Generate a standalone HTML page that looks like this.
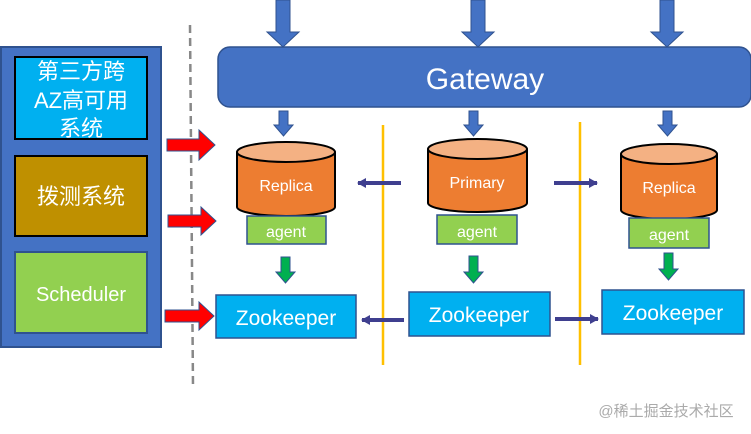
<!DOCTYPE html>
<html><head><meta charset="utf-8"><style>
html,body{margin:0;padding:0;background:#fff;width:751px;height:434px;overflow:hidden}
svg{display:block}
text{font-family:"Liberation Sans","Noto Sans CJK SC",sans-serif;fill:#fff}
</style></head><body>
<svg width="751" height="434" viewBox="0 0 751 434" xmlns="http://www.w3.org/2000/svg">
<defs>
<marker id="nb" markerWidth="9" markerHeight="10" refX="8" refY="5" orient="auto" markerUnits="userSpaceOnUse"><path d="M0,0 L9,5 L0,10 z" fill="#3F3F8F"/></marker>
</defs>
<rect x="1" y="47" width="160" height="300" fill="#4472C4" stroke="#2F528F" stroke-width="2"/>
<rect x="15" y="57" width="132" height="82" fill="#00B0F0" stroke="#000" stroke-width="2"/>
<text x="81" y="79" font-size="22" text-anchor="middle">第三方跨</text>
<text x="81" y="108" font-size="22" text-anchor="middle">AZ高可用</text>
<text x="81" y="136" font-size="22" text-anchor="middle">系统</text>
<rect x="15" y="156" width="132" height="80" fill="#BF9000" stroke="#000" stroke-width="2"/>
<text x="81" y="204" font-size="22" text-anchor="middle">拨测系统</text>
<rect x="15" y="252" width="132" height="81" fill="#92D050" stroke="#2F528F" stroke-width="2"/>
<text x="81" y="301" font-size="20" text-anchor="middle">Scheduler</text>
<line x1="190" y1="25" x2="193" y2="387" stroke="#888" stroke-width="2.5" stroke-dasharray="8,5"/>
<g fill="#FF0000" stroke="#2F528F" stroke-width="1">
<path d="M167,139 L199,139 L199,130 L215,145 L199,160 L199,151 L167,151 z"/>
<path d="M168,215 L201,215 L201,207 L216,221 L201,235 L201,227 L168,227 z"/>
<path d="M165,310 L199,310 L199,302 L214,316 L199,330 L199,322 L165,322 z"/>
</g>
<rect x="218" y="47" width="533" height="60" rx="12" fill="#4472C4" stroke="#2F528F" stroke-width="1.5"/>
<text x="485" y="89" font-size="30" text-anchor="middle">Gateway</text>
<g fill="#4472C4" stroke="#2F528F" stroke-width="1">
<path d="M276,0 L290,0 L290,32 L299,32 L283,47 L267,32 L276,32 z"/>
<path d="M471,0 L485,0 L485,32 L494,32 L478,47 L462,32 L471,32 z"/>
<path d="M660,0 L674,0 L674,32 L683,32 L667,47 L651,32 L660,32 z"/>
<path d="M279,111 L288,111 L288,125 L293,125 L283.5,136 L274,125 L279,125 z"/>
<path d="M469,111 L478,111 L478,125 L483,125 L473.5,136 L464,125 L469,125 z"/>
<path d="M663,111 L672,111 L672,125 L677,125 L667.5,136 L658,125 L663,125 z"/>
</g>
<line x1="383" y1="125" x2="383" y2="365" stroke="#FFC000" stroke-width="2.5"/>
<line x1="580" y1="122" x2="580" y2="365" stroke="#FFC000" stroke-width="2.5"/>
<g stroke="#000" stroke-width="2">
<path d="M237,152 L237,207 A49,9 0 0 0 335,207 L335,152" fill="#ED7D31"/>
<ellipse cx="286" cy="152" rx="49" ry="10" fill="#F4B183"/>
<path d="M428,149 L428,203 A49.5,9 0 0 0 527,203 L527,149" fill="#ED7D31"/>
<ellipse cx="477.5" cy="149" rx="49.5" ry="10" fill="#F4B183"/>
<path d="M621,154 L621,210 A48,9 0 0 0 717,210 L717,154" fill="#ED7D31"/>
<ellipse cx="669" cy="154" rx="48" ry="10" fill="#F4B183"/>
</g>
<text x="286" y="191" font-size="16" text-anchor="middle">Replica</text>
<text x="477" y="188" font-size="16" text-anchor="middle">Primary</text>
<text x="669" y="193" font-size="16" text-anchor="middle">Replica</text>
<g fill="#92D050" stroke="#2F528F" stroke-width="1.5">
<rect x="247" y="216" width="79" height="28"/>
<rect x="437" y="215" width="80" height="29"/>
<rect x="629" y="218" width="80" height="30"/>
</g>
<text x="286" y="237" font-size="16" text-anchor="middle">agent</text>
<text x="477" y="237" font-size="16" text-anchor="middle">agent</text>
<text x="669" y="240" font-size="16" text-anchor="middle">agent</text>
<g fill="#00B050" stroke="#2F528F" stroke-width="1">
<path d="M281,257 L290,257 L290,272 L295,272 L285.5,283 L276,272 L281,272 z"/>
<path d="M469,256 L478,256 L478,272 L483,272 L473.5,283 L464,272 L469,272 z"/>
<path d="M664,253 L673,253 L673,269 L678,269 L668.5,280 L659,269 L664,269 z"/>
</g>
<g fill="#00B0F0" stroke="#2F528F" stroke-width="1.5">
<rect x="216" y="295" width="140" height="43"/>
<rect x="409" y="292" width="141" height="44"/>
<rect x="602" y="290" width="142" height="44"/>
</g>
<text x="286" y="325" font-size="21" text-anchor="middle">Zookeeper</text>
<text x="479" y="322" font-size="21" text-anchor="middle">Zookeeper</text>
<text x="673" y="320" font-size="21" text-anchor="middle">Zookeeper</text>
<g stroke="#3F3F8F" stroke-width="4" marker-end="url(#nb)">
<line x1="401" y1="183" x2="358" y2="183"/>
<line x1="554" y1="183" x2="597" y2="183"/>
<line x1="404" y1="320" x2="362" y2="320"/>
<line x1="555" y1="319" x2="598" y2="319"/>
</g>
<text x="666" y="416" font-size="15" text-anchor="middle" style="fill:#aaa">@稀土掘金技术社区</text>
</svg>
</body></html>
